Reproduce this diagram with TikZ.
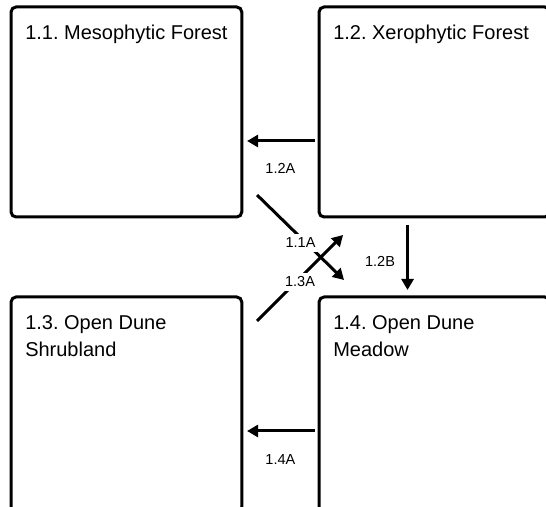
\documentclass[tikz,border=0pt]{standalone}
\usepackage{fontspec}
\setmainfont{Liberation Sans}
\usetikzlibrary{arrows.meta,positioning}

\begin{document}
\begin{tikzpicture}[
  x=1pt, y=1pt,
  box/.style={rectangle, draw, line width=3pt, rounded corners=5pt,
              minimum width=230.7pt, minimum height=210pt},
  title/.style={inner sep=0pt, align=left, font=\fontsize{20}{27}\selectfont\frenchspacing},
  lbl/.style={inner sep=4pt, fill=white, font=\fontsize{14.5}{16}\selectfont},
  arr/.style={-{Triangle[length=11pt,width=12pt]}, line width=3pt},
]
\useasboundingbox (0,0) rectangle (546,506);
\clip (0,0) rectangle (546,506);

\node[box] (m11) at (126.4,394) {};
\node[box, right=74.3pt of m11] (m12) {};
\node[box, below=77pt of m11, minimum height=215pt] (m13) {};
\node[box, right=74.3pt of m13, minimum height=215pt] (m14) {};

\node[title, below right=19.5pt and 15.5pt of m11.north west] (t11) {1.1. Mesophytic Forest};
\node[title, below right=19.5pt and 15.5pt of m12.north west] (t12) {1.2. Xerophytic Forest};
\node[title, below right=19.5pt and 15.5pt of m13.north west] (t13) {1.3. Open Dune\\Shrubland};
\node[title, below right=19.5pt and 15.5pt of m14.north west] (t14) {1.4. Open Dune\\Meadow};

\draw[arr, shorten <=2.5pt, shorten >=3.8pt] ([yshift=-135.5pt]m12.north west) -- node[lbl, yshift=-27.5pt] {1.2A} ([yshift=-135.5pt]m11.north east);
\draw[arr, shorten <=2.5pt, shorten >=3.8pt] ([yshift=-135.5pt]m14.north west) -- node[lbl, yshift=-28.5pt] {1.4A} ([yshift=-135.5pt]m13.north east);
\draw[arr, shorten <=6.5pt, shorten >=5.5pt] ([xshift=90pt]m12.south west) -- node[lbl, xshift=-27.5pt, yshift=-4.5pt] {1.2B} ([xshift=90pt]m14.north west);

\draw[arr] ([shift={(13.8,23.5)}]m11.south east) -- node[lbl, yshift=-5.5pt] {1.1A} ([shift={(26.5,15.5)}]m14.north west);
\draw[arr] ([shift={(13.8,-25.5)}]m13.north east) -- node[lbl, yshift=-4pt] {1.3A} ([shift={(25.5,-16.5)}]m12.south west);

\end{tikzpicture}
\end{document}
